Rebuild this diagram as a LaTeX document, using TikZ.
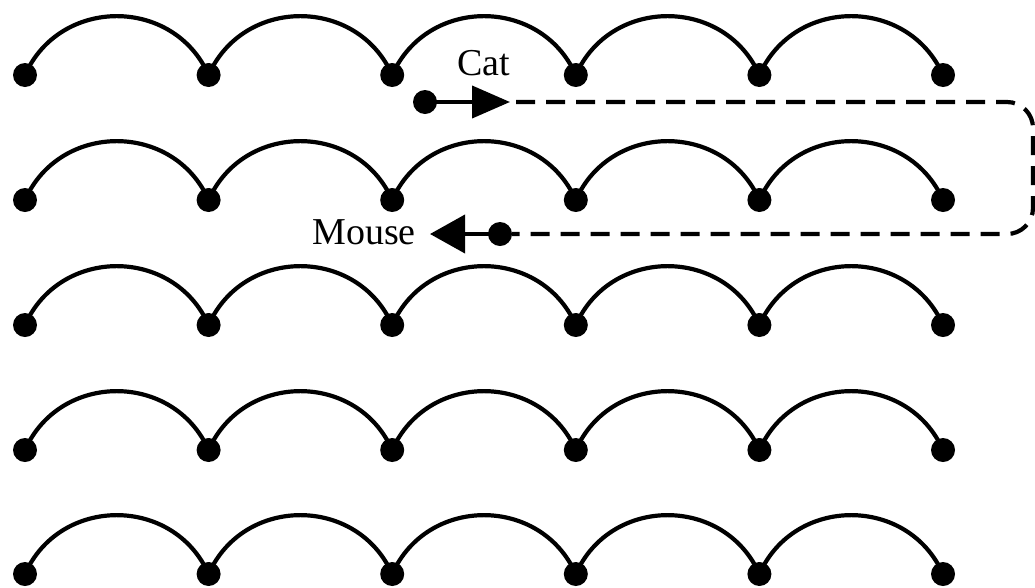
\documentclass[tikz,border=0pt]{standalone}
\usepackage{fontspec}
\setmainfont{Liberation Serif}
\usetikzlibrary{arrows.meta}
\begin{document}
\begin{tikzpicture}[x=1pt,y=1pt,
  dotnode/.style={circle,fill=black,draw=none,minimum size=24pt,inner sep=0pt},
  arcline/.style={line width=4.2pt,black},
  pathline/.style={line width=4pt,black},
  dashline/.style={line width=4.2pt,black,dash pattern=on 19pt off 11pt,rounded corners=26pt},
  lbl/.style={font=\fontsize{38}{40}\selectfont,inner sep=0pt}]
\useasboundingbox (0,0) rectangle (1035,-587);
% rows of dots and arcs
\foreach \r/\yy in {1/-75,2/-200,3/-325,4/-450,5/-574}{
  \foreach \c in {0,...,5}{
    \node[dotnode] (d\r\c) at ({25+183.6*\c},\yy) {};
  }
  \foreach \c [evaluate=\c as \n using int(\c+1)] in {0,...,4}{
    \draw[arcline] (d\r\c.center) to[out=66,in=114,looseness=1.2] (d\r\n.center);
  }
}
% cat and mouse
\node[dotnode] (catdot) at (425,-102) {};
\coordinate (cattip) at (510,-102);
\node[dotnode] (mousedot) at (500,-234) {};
\coordinate (mousetip) at (430,-234);
\coordinate (c1) at (1033,-102);
\coordinate (c2) at (1033,-234);
\draw[pathline,-{Triangle[length=38pt,width=32pt]}] (catdot.center) -- (cattip);
\draw[pathline,-{Triangle[length=35pt,width=38pt]}] (mousedot.center) -- (mousetip);
\draw[dashline] ([xshift=6pt]cattip) -- (c1) -- (c2) -- ([xshift=12pt]mousedot.center);
\node[lbl] (cat) at (484,-63) {Cat};
\node[lbl,anchor=east] (mouse) at (416,-232) {Mouse};
\end{tikzpicture}
\end{document}
